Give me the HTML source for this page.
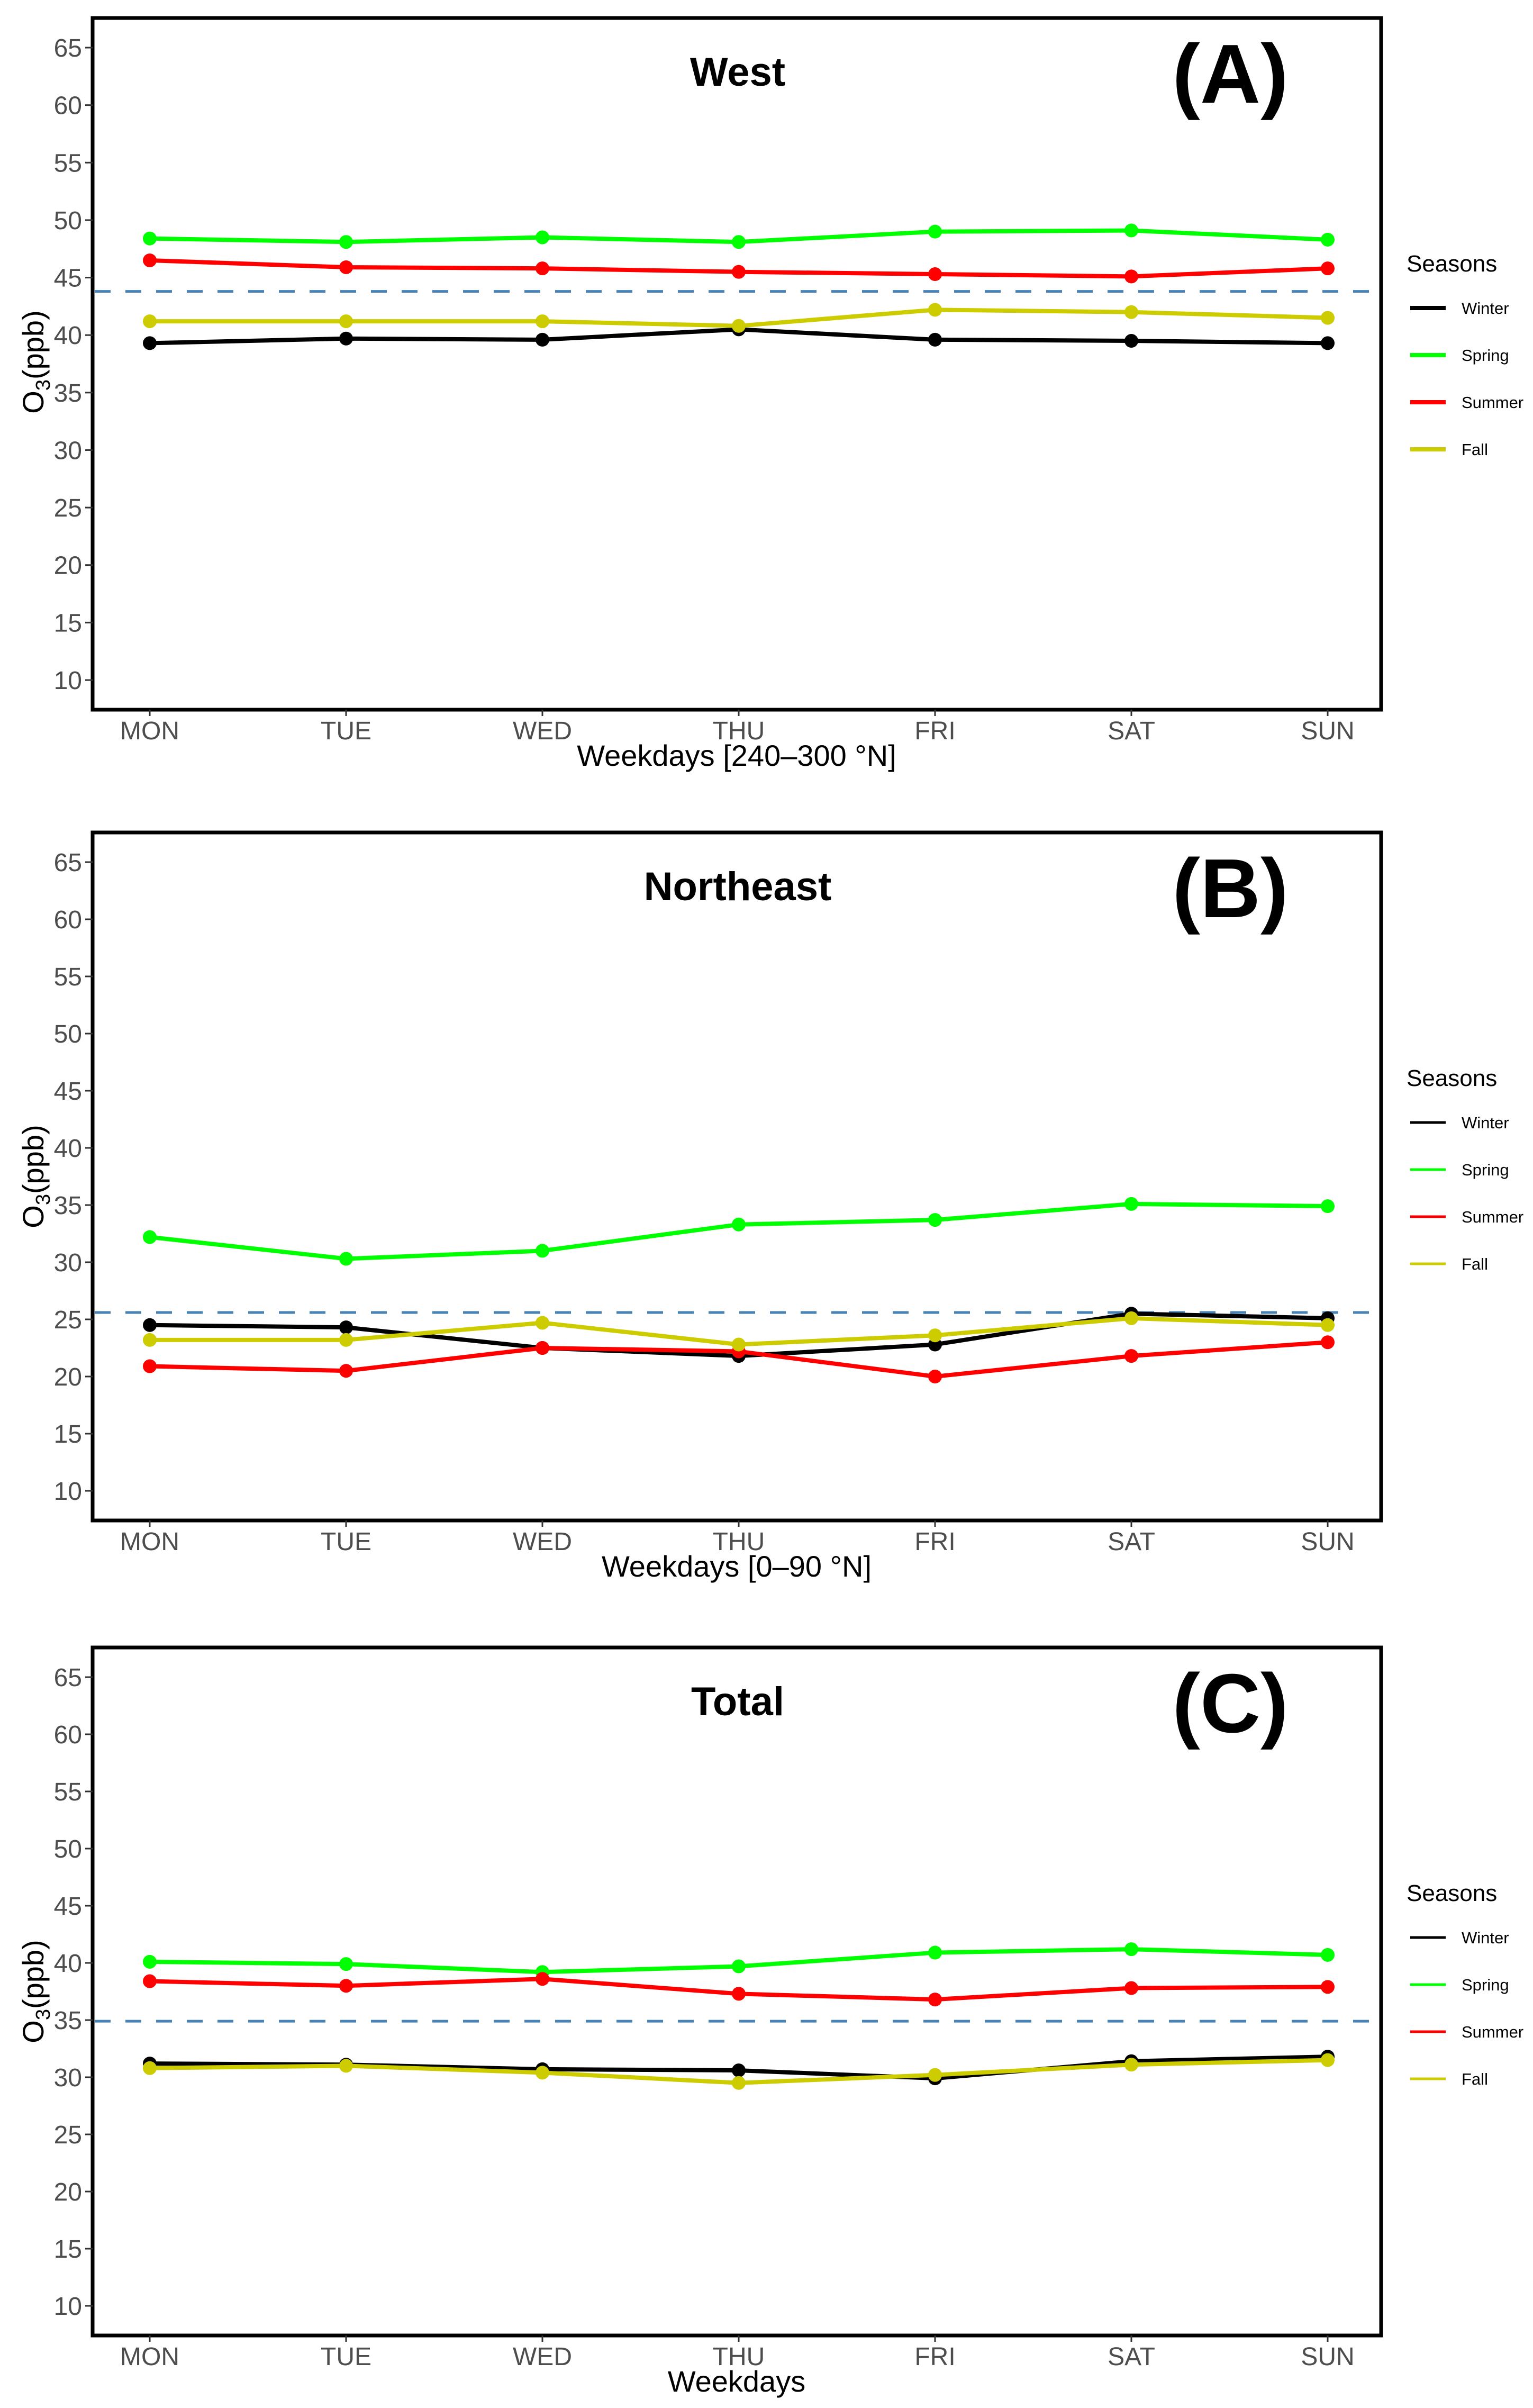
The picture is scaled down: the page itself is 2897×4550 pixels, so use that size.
<!DOCTYPE html>
<html><head><meta charset="utf-8"><style>
html,body{margin:0;padding:0;background:#fff;}
svg{display:block;font-family:"Liberation Sans",Arial,sans-serif;}
</style></head><body>
<svg id="chart" xmlns="http://www.w3.org/2000/svg" width="2897" height="4550" viewBox="0 0 2897 4550"></svg>
<script>
const days = ["MON","TUE","WED","THU","FRI","SAT","SUN"];
const seasons = ["Winter","Spring","Summer","Fall"];
const seasonColors = ["#000000","#00ff00","#ff0000","#cccc00"];
const yTicks = [10,15,20,25,30,35,40,45,50,55,60,65];
const panelTitles = ["West","Northeast","Total"];
const panelLetters = ["(A)","(B)","(C)"];
const xTitles = ["Weekdays [240\u2013300 \u00b0N]","Weekdays [0\u201390 \u00b0N]","Weekdays"];
const westWinter = [39.3,39.7,39.6,40.5,39.6,39.5,39.3];
const westSpring = [48.4,48.1,48.5,48.1,49.0,49.1,48.3];
const westSummer = [46.5,45.9,45.8,45.5,45.3,45.1,45.8];
const westFall = [41.2,41.2,41.2,40.8,42.2,42.0,41.5];
const westMean = 43.8;
const neWinter = [24.5,24.3,22.5,21.8,22.8,25.5,25.1];
const neSpring = [32.2,30.3,31.0,33.3,33.7,35.1,34.9];
const neSummer = [20.9,20.5,22.5,22.2,20.0,21.8,23.0];
const neFall = [23.2,23.2,24.7,22.8,23.6,25.1,24.5];
const neMean = 25.6;
const totWinter = [31.2,31.1,30.7,30.6,29.9,31.4,31.8];
const totSpring = [40.1,39.9,39.2,39.7,40.9,41.2,40.7];
const totSummer = [38.4,38.0,38.6,37.3,36.8,37.8,37.9];
const totFall = [30.8,31.0,30.4,29.5,30.2,31.1,31.5];
const totMean = 34.9;
const panelSeries = [[westWinter,westSpring,westSummer,westFall],[neWinter,neSpring,neSummer,neFall],[totWinter,totSpring,totSummer,totFall]];
const panelMeans = [westMean,neMean,totMean];

const NS="http://www.w3.org/2000/svg";
const svg=document.getElementById('chart');
function mk(tag,attrs,parent){const e=document.createElementNS(NS,tag);for(const k in attrs)e.setAttribute(k,attrs[k]);(parent||svg).appendChild(e);return e;}
const panelTops=[34,1573,3113];
const panelH=[1307,1300,1300];
const L=175,R=2610;
panelTops.forEach((top,p)=>{
  const H=panelH[p];
  const g=mk('g',{});
  
  
  const y0=top+56,y1=top+H-56;
  const ys=v=>y1-(v-10)*(y1-y0)/55;
  const xs=i=>283+i*371;
  const fr=mk('rect',{x:L,y:top,width:R-L,height:H,fill:'none',stroke:'#000','stroke-width':7},g);
  
  
  yTicks.forEach(t=>{
    mk('line',{x1:L-14,x2:L,y1:ys(t),y2:ys(t),stroke:'#333','stroke-width':3},g);
    const tx=mk('text',{x:L-20,y:ys(t)+17,'text-anchor':'end','font-size':48,fill:'#4d4d4d'},g);
    tx.textContent=t;
    
    
  });
  days.forEach((d,i)=>{
    mk('line',{x1:xs(i),x2:xs(i),y1:top+H,y2:top+H+12,stroke:'#333','stroke-width':3},g);
    const tx=mk('text',{x:xs(i),y:top+H+56,'text-anchor':'middle','font-size':48,fill:'#4d4d4d'},g);
    tx.textContent=d;
    
    
  });
  const xt=mk('text',{x:1392,y:top+H+106,'text-anchor':'middle','font-size':56,fill:'#000'},g);
  xt.textContent=xTitles[p];
  
  
  const yt=mk('text',{x:0,y:0,'text-anchor':'middle','font-size':56,fill:'#000',transform:`translate(82,${top+650}) rotate(-90)`},g);
  yt.innerHTML='O<tspan font-size="38" dy="12">3</tspan><tspan dy="-12">(ppb)</tspan>';
  
  
  const tt=mk('text',{x:1394,y:top+128,'text-anchor':'middle','font-size':76,'font-weight':'bold',fill:'#000'},g);
  tt.textContent=panelTitles[p];
  
  
  const lt=mk('text',{x:2325,y:top+160,'text-anchor':'middle','font-size':158,'font-weight':'bold',fill:'#000'},g);
  lt.textContent=panelLetters[p];
  
  
  const ml=mk('line',{x1:L+4,x2:R-4,y1:ys(panelMeans[p]),y2:ys(panelMeans[p]),stroke:'#4682b4','stroke-width':5,'stroke-dasharray':'30 28'},g);
  
  
  panelSeries[p].forEach((vals,s)=>{
    const pl=mk('polyline',{points:vals.map((v,i)=>xs(i)+','+ys(v)).join(' '),fill:'none',stroke:seasonColors[s],'stroke-width':8},g);
    
    
    vals.forEach((v,i)=>{
      const c=mk('circle',{cx:xs(i),cy:ys(v),r:13,fill:seasonColors[s]},g);
      
      
    });
  });
  const lg=mk('g',{},g);
  
  
  const lh=mk('text',{x:2658,y:top+479,'font-size':44,fill:'#000'},lg);
  lh.textContent='Seasons';
  
  
  seasons.forEach((s,i)=>{
    const yy=top+548+i*89;
    const ln=mk('line',{x1:2665,x2:2732,y1:yy,y2:yy,stroke:seasonColors[i],'stroke-width':p===0?8:5},lg);
    
    
    const tx=mk('text',{x:2762,y:yy+11,'font-size':31,fill:'#000'},lg);
    tx.textContent=s;
    
    
  });
});
</script>
</body></html>
